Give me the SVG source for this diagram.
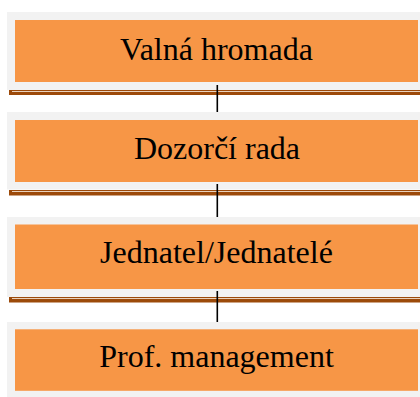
<svg xmlns="http://www.w3.org/2000/svg" width="420" height="397" viewBox="0 0 420 397">
<style>
.panel{fill:#f2f2f2}
.box{fill:#f79646}
.bar{fill:#9c4a0a}
.gap{stroke:#ead2bc;stroke-width:1}
.lbl{font-family:"Liberation Serif","Times New Roman",serif;font-size:32px;fill:#000;text-anchor:middle}
.conn{stroke:#000;stroke-width:1.6}
</style>
<rect width="420" height="397" fill="#ffffff"/>
<g id="node-valna">
<rect class="panel" x="7" y="12" width="413" height="78"/>
<rect class="box" x="15" y="20" width="403" height="62"/>
<rect class="bar" x="9" y="90" width="411" height="5"/>
<line class="gap" x1="12" y1="91.5" x2="420" y2="91.5"/>
<text class="lbl" x="216.5" y="59.5">Valná hromada</text>
</g>
<g id="node-dozorci">
<rect class="panel" x="7" y="112" width="413" height="77.5"/>
<rect class="box" x="15" y="120" width="403" height="62"/>
<rect class="bar" x="9" y="190" width="411" height="5.5"/>
<line class="gap" x1="12" y1="191.5" x2="420" y2="191.5"/>
<text class="lbl" x="217" y="158.5">Dozorčí rada</text>
</g>
<g id="node-jednatel">
<rect class="panel" x="7" y="217" width="413" height="80"/>
<rect class="box" x="15" y="224.5" width="403" height="64.5"/>
<rect class="bar" x="9" y="297" width="411" height="5.5"/>
<line class="gap" x1="12" y1="298.5" x2="420" y2="298.5"/>
<text class="lbl" x="216.5" y="262.5">Jednatel/Jednatelé</text>
</g>
<g id="node-prof">
<rect class="panel" x="7" y="322" width="413" height="75"/>
<rect class="box" x="15" y="329.3" width="403" height="61.5"/>
<text class="lbl" x="216.5" y="367">Prof. management</text>
</g>
<g id="connectors">
<line class="conn" x1="217.3" y1="85" x2="217.3" y2="112"/>
<line class="conn" x1="217.3" y1="184" x2="217.3" y2="217"/>
<line class="conn" x1="217.3" y1="291" x2="217.3" y2="322"/>
</g>
</svg>
